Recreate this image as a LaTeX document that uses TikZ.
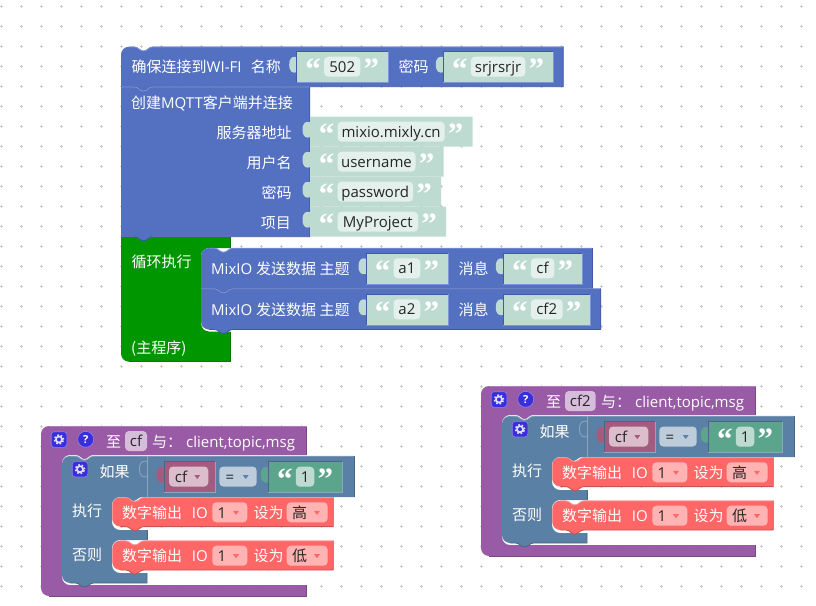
\documentclass[tikz,border=0pt]{standalone}
\usepackage{fontspec}
\setmainfont{Open Sans}
\newfontfamily\cjk{Noto Sans CJK SC}
\newfontfamily\quotefont{Liberation Serif}

\definecolor{GridMark}{HTML}{CCCCCC}
\definecolor{Sea}{HTML}{5470C1}\definecolor{SeaDark}{HTML}{4259A3}\definecolor{SeaLight}{HTML}{7F94D6}
\definecolor{Loop}{HTML}{009600}\definecolor{LoopDark}{HTML}{007A00}\definecolor{LoopLight}{HTML}{2FAE2F}
\definecolor{Proc}{HTML}{995BA5}\definecolor{ProcDark}{HTML}{7A4984}\definecolor{ProcLight}{HTML}{B37DBD}
\definecolor{Logic}{HTML}{5B80A5}\definecolor{LogicDark}{HTML}{496684}\definecolor{LogicLight}{HTML}{8CA6C0}
\definecolor{Coral}{HTML}{FF6666}\definecolor{CoralDark}{HTML}{CC5252}\definecolor{CoralLight}{HTML}{FF9494}
\definecolor{Shadow}{HTML}{BEDBD1}\definecolor{ShadowField}{HTML}{E3F0EC}
\definecolor{Str}{HTML}{5BA58C}\definecolor{StrField}{HTML}{BDDBD1}
\definecolor{VarBlk}{HTML}{A55B80}\definecolor{VarField}{HTML}{DBBDCC}
\definecolor{OpField}{HTML}{BDCCDB}\definecolor{ProcField}{HTML}{D6BDDB}
\definecolor{CoralField}{HTML}{FFB3B3}
\definecolor{Icon}{HTML}{3A2EDC}\definecolor{IconEdge}{HTML}{8C86E8}

\tikzset{
  gridmark/.style={GridMark,line width=.9pt},
  lbl/.style={inner sep=0pt,text=white,font=\fontsize{15}{16}\selectfont,anchor=base west},
  lblr/.style={lbl,anchor=base east},
  fld/.style={inner sep=0pt,text=black!85,font=\fontsize{15}{16}\selectfont,anchor=base},
  quot/.style={inner sep=0pt,text=white,font=\quotefont\bfseries\fontsize{31}{31}\selectfont,anchor=base},
  iconq/.style={inner sep=0pt,text=white,font=\bfseries\fontsize{11}{12}\selectfont},
}

% Connection notch along a horizontal edge, centred on #1, at height #2
\newcommand\notchLR[2]{-- ({#1-9},#2) .. controls ({#1-5},#2) and ({#1-4},{#2+4}) .. (#1,{#2+4}) .. controls ({#1+4},{#2+4}) and ({#1+5},#2) .. ({#1+9},#2)}
\newcommand\notchRL[2]{-- ({#1+9},#2) .. controls ({#1+5},#2) and ({#1+4},{#2+4}) .. (#1,{#2+4}) .. controls ({#1-4},{#2+4}) and ({#1-5},#2) .. ({#1-9},#2)}

% Stacking block: left, top, right, bottom, colour, top-left radius, bottom-left radius
\newcommand\stackblock[7]{%
  \fill[#5] (#1,{#2+#6}) .. controls (#1,{#2+.45*#6}) and ({#1+.45*#6},#2) .. ({#1+#6},#2) \notchLR{#1+22.5}{#2} -- (#3,#2) -- (#3,#4)
     \notchRL{#1+22.5}{#4} -- ({#1+#7},#4) .. controls ({#1+.45*#7},#4) and (#1,{#4-.45*#7}) .. (#1,{#4-#7}) -- cycle;
  \draw[#5Light,line width=.8pt] ({#1+#6},{#2+.3}) \notchLR{#1+22.5}{#2+.3} -- (#3,{#2+.3});
  \draw[#5Dark,line width=.8pt] (#3,#2) -- (#3,#4) \notchRL{#1+22.5}{#4} -- ({#1+#7},#4);
}

% Value block with a puzzle tab on its left side: left, top, right, bottom, colour
\newcommand\valueblock[5]{%
  \fill[#5] (#1,#2) -- (#3,#2) -- (#3,#4) -- (#1,#4) -- (#1,{#2+20.5})
     .. controls ({#1-4},{#2+22}) and ({#1-7.5},{#2+20}) .. ({#1-7.5},{#2+13})
     .. controls ({#1-7.5},{#2+6}) and ({#1-4},{#2+4}) .. (#1,{#2+5.5}) -- cycle;
}
% Inset edges of a value block seated inside its parent: left, top, right, bottom, parent colour
\newcommand\valueframe[5]{%
  \draw[#5Dark,line width=.8pt] (#1,#4) -- (#1,#2) -- (#3,#2);
  \draw[#5Light,line width=.8pt] (#3,#2) -- (#3,#4) -- (#1,#4);
}
% Text block with quotes: name, left, top, right, bottom, block colour, field colour, text
\newcommand\stringblock[8]{%
  \valueblock{#2}{#3}{#4}{#5}{#6}
  \fill[#7,rounded corners=4pt] ({#2+27.5},{#3+5}) rectangle ({#4-28},{#3+25});
  \node[quot] (#1-open) at ({#2+16.5},{#3+28}) {“};
  \node[quot] (#1-close) at ({#4-17},{#3+28}) {”};
  \node[fld] (#1-text) at ({(#2+27.5+#4-28)/2},{#3+20.5}) {#8};
}
% Dropdown field: left, top, right, colour, triangle x, triangle colour
\newcommand\dropfield[6]{%
  \fill[#4,rounded corners=4pt] (#1,#2) rectangle (#3,{#2+20});
  \fill[#6] ({#5-3},{#2+8.5}) -- ({#5+3},{#2+8.5}) -- (#5,{#2+12.5}) -- cycle;
}
% Square cog button centred on (#1,#2)
\newcommand\cogbutton[2]{%
  \fill[Icon,draw=IconEdge,line width=.6pt,rounded corners=3pt] ({#1-7.8},{#2-7.8}) rectangle ({#1+7.8},{#2+7.8});
  \draw[white!85!Icon,line width=1.6pt] (#1,#2) circle[radius=3pt];
  \draw[white!85!Icon,line width=1.6pt,dash pattern=on 1.7pt off 1.93pt] (#1,#2) circle[radius=4.6pt];
}
% Digital output block: name, top, level text
\newcommand\outputblock[3]{%
  \pgfmathsetmacro\outbottom{#2+29.3}%
  \pgfmathsetmacro\outfield{#2+5}%
  \stackblock{112.3}{#2}{333.3}{\outbottom}{Coral}{8}{8}
  \node[lbl] (#1-title) at (122,{#2+20.7}) {\cjk 数字输出};
  \node[lbl] (#1-io) at (191.7,{#2+20.7}) {IO};
  \dropfield{212.3}{\outfield}{247.3}{CoralField}{236}{Coral}
  \node[fld] (#1-pin) at (222,{#2+20.7}) {1};
  \node[lbl] (#1-set) at (253.3,{#2+20.7}) {\cjk 设为};
  \dropfield{286.7}{\outfield}{327.7}{CoralField}{317}{Coral}
  \node[fld] (#1-level) at (299.5,{#2+20.7}) {\cjk #3};
}
% MQTT callback procedure: name, x shift, y shift, purple right edge, field right, colon x, args x, procedure name
\newcommand\callback[8]{%
\begin{scope}[shift={(#2,#3)}]
  % body of the procedure
  \fill[Proc] (41,434) .. controls (41,429.6) and (44.6,426) .. (49,426) -- (#4,426) -- (#4,455) -- (93.5,455)
     .. controls (88.5,455) and (88,459) .. (84.5,459) .. controls (81,459) and (80.5,455) .. (75.5,455)
     -- (70,455) .. controls (65.6,455) and (62,458.6) .. (62,463) -- (62,577) .. controls (62,581.4) and (65.6,585) .. (70,585)
     -- (#4,585) -- (#4,596) -- (49,596) .. controls (44.6,596) and (41,592.4) .. (41,588) -- cycle;
  \draw[ProcDark,line width=.8pt] (#4,426) -- (#4,455);
  \draw[ProcLight,line width=.8pt] (49,426.3) -- (#4,426.3);
  \draw[ProcDark,line width=.8pt] (#4,585) -- (#4,596) -- (49,596);
  \cogbutton{59}{439.5}
  \fill[Icon,draw=IconEdge,line width=.6pt] (85.7,439.3) circle[radius=8pt];
  \node[iconq] (#1-help) at (85.7,439.3) {?};
  \node[lbl] (#1-to) at (106,447) {\cjk 至};
  \fill[ProcField,rounded corners=4pt] (125,431) rectangle (#5,451);
  \node[fld] (#1-name) at ({(125+#5)/2},446.5) {#8};
  \node[lbl] (#1-with) at (#6,447) {\cjk 与：};
  \node[lbl] (#1-args) at (#7,447) {client,topic,msg};
  % if / else block
  \fill[Logic] (62,464) .. controls (62,459.6) and (65.6,456) .. (70,456) \notchLR{84.5}{456} -- (354,456) -- (354,497)
     \notchRL{133}{497} -- (120,497) .. controls (115.6,497) and (112,500.6) .. (112,505) -- (112,522) .. controls (112,526.4) and (115.6,530) .. (120,530)
     -- (147,530) -- (147,540) -- (120,540) .. controls (115.6,540) and (112,543.6) .. (112,548) -- (112,565) .. controls (112,569.4) and (115.6,573) .. (120,573)
     -- (147,573) -- (147,583) \notchRL{84.5}{583} -- (70,583) .. controls (65.6,583) and (62,579.4) .. (62,575) -- cycle;
  \draw[LogicLight,line width=.8pt] (70,456.3) \notchLR{84.5}{456.3} -- (354,456.3);
  \draw[LogicDark,line width=.8pt] (354,456) -- (354,497);
  \draw[LogicDark,line width=.8pt] (147,530) -- (147,540);
  \draw[LogicDark,line width=.8pt] (147,573) -- (147,583) \notchRL{84.5}{583} -- (70,583);
  \draw[LogicLight,line width=.8pt] (147,456) -- (147,497);
  \draw[LogicLight,line width=.8pt] (147,461.5) .. controls (143,460) and (139.5,462) .. (139.5,469)
     .. controls (139.5,476) and (143,478) .. (147,476.5);
  \cogbutton{80}{469.2}
  \node[lbl] (#1-if) at (99.3,477) {\cjk 如果};
  \node[lbl] (#1-then) at (72,516) {\cjk 执行};
  \node[lbl] (#1-else) at (72,560) {\cjk 否则};
  % condition
  \valueblock{164}{461.7}{215}{492.3}{VarBlk}
  \valueframe{164}{461.7}{215}{492.3}{Logic}
  \dropfield{169}{466.5}{208.3}{VarField}{197.3}{VarBlk}
  \node[fld] (#1-var) at (181,482) {cf};
  \dropfield{219.3}{466.5}{256.7}{OpField}{245.7}{Logic}
  \node[fld] (#1-op) at (230,482) {=};
  \stringblock{#1-val}{268.3}{461.7}{342.3}{492.3}{Str}{StrField}{1}
  \valueframe{268.3}{461.7}{342.3}{492.3}{Logic}
  % branches
  \outputblock{#1-high}{497.3}{高}
  \outputblock{#1-low}{540.7}{低}
\end{scope}}

\begin{document}
\begin{tikzpicture}[x=1pt,y=-1pt]
\useasboundingbox (0,0) rectangle (816,605);
\fill[white] (0,0) rectangle (816,605);

% workspace grid
\foreach \gi in {0,...,40}
  \foreach \gj in {0,...,29}
    \draw[gridmark] ({1.3+20*\gi-1.6},{6.3+20*\gj}) -- ({1.3+20*\gi+1.6},{6.3+20*\gj})
                    ({1.3+20*\gi},{6.3+20*\gj-1.6}) -- ({1.3+20*\gi},{6.3+20*\gj+1.6});

% main loop
\fill[Loop] (121,237) -- (230.7,237) -- (230.7,248) -- (209,248) .. controls (204.6,248) and (201,251.6) .. (201,256)
   -- (201,323) .. controls (201,327.9) and (204.6,331.5) .. (209,331.5) -- (230.7,331.5) -- (230.7,361.7)
   -- (129,361.7) .. controls (124.6,361.7) and (121,358.1) .. (121,353.7) -- cycle;
\draw[LoopDark,line width=.8pt] (230.7,237) -- (230.7,248);
\draw[LoopDark,line width=.8pt] (230.7,331.5) -- (230.7,361.7) -- (129,361.7);
\node[lbl] (loopTitle) at (131.5,267.5) {\cjk 循环执行};
\node[lbl] (loopMain) at (131,353) {\cjk (主程序)};

% Wi-Fi setup
\stackblock{121}{46.7}{563.3}{86.7}{Sea}{8}{0}
\node[lbl] (wifiTitle) at (131.5,72) {{\cjk 确保连接到}WI-FI};
\node[lbl] (wifiName) at (250.7,72) {\cjk 名称};
\stringblock{ssid}{296.7}{51.7}{388.3}{82}{Shadow}{ShadowField}{502}
\valueframe{296.7}{51.7}{388.3}{82}{Sea}
\node[lbl] (wifiPass) at (398.3,72) {\cjk 密码};
\stringblock{psk}{443.3}{51.7}{553.3}{82}{Shadow}{ShadowField}{srjrsrjr}
\valueframe{443.3}{51.7}{553.3}{82}{Sea}

% MQTT client
\stackblock{121}{86.7}{309.8}{236.7}{Sea}{0}{0}
\node[lbl] (mqttTitle) at (131,108.5) {{\cjk 创建}MQTT{\cjk 客户端并连接}};
\node[lblr] (mqttHost) at (291.7,138) {\cjk 服务器地址};
\node[lblr] (mqttUser) at (291.7,168) {\cjk 用户名};
\node[lblr] (mqttPass) at (291.7,198) {\cjk 密码};
\node[lblr] (mqttProj) at (291,228) {\cjk 项目};
\stringblock{host}{310}{116.7}{472.7}{146.7}{Shadow}{ShadowField}{mixio.mixly.cn}
\stringblock{user}{310}{146.7}{443.5}{176.7}{Shadow}{ShadowField}{username}
\stringblock{pass}{310}{176.7}{441}{206.7}{Shadow}{ShadowField}{password}
\stringblock{proj}{310}{206.7}{446}{236.7}{Shadow}{ShadowField}{MyProject}

% publish statements inside the loop
\stackblock{201}{248}{592.5}{288.5}{Sea}{8}{0}
\stackblock{201}{288.5}{600.8}{329.5}{Sea}{0}{8}
\node[lbl] (pubA) at (211,274) {MixIO {\cjk 发送数据 主题}};
\node[lbl] (pubB) at (211,315) {MixIO {\cjk 发送数据 主题}};
\stringblock{topicA}{366}{253.3}{448.3}{284}{Shadow}{ShadowField}{a1}
\valueframe{366}{253.3}{448.3}{284}{Sea}
\node[lbl] (msgA) at (458.3,274) {\cjk 消息};
\stringblock{payloadA}{503.3}{253.3}{582.3}{284}{Shadow}{ShadowField}{cf}
\valueframe{503.3}{253.3}{582.3}{284}{Sea}
\stringblock{topicB}{366}{294.3}{448.3}{325.3}{Shadow}{ShadowField}{a2}
\valueframe{366}{294.3}{448.3}{325.3}{Sea}
\node[lbl] (msgB) at (458.3,315) {\cjk 消息};
\stringblock{payloadB}{503.3}{294.3}{590.7}{325.3}{Shadow}{ShadowField}{cf2}
\valueframe{503.3}{294.3}{590.7}{325.3}{Sea}

% callbacks
\callback{cbOne}{0}{0}{306.7}{147}{152}{186}{cf}
\callback{cbTwo}{440}{-40}{315.7}{155.7}{161}{195}{cf2}
\end{tikzpicture}
\end{document}
